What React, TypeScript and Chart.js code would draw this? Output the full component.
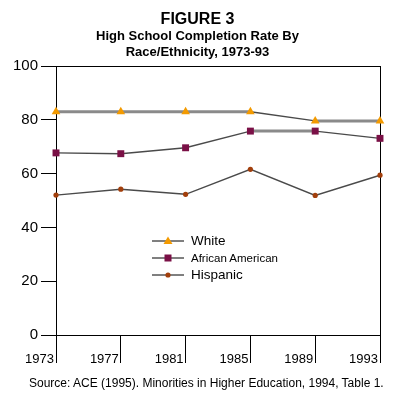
import React, { useEffect, useRef } from "react";
import { Chart, registerables } from "chart.js";

Chart.register(...registerables);

const years = ["1973", "1977", "1981", "1985", "1989", "1993"];
const white = [83.0, 83.0, 83.0, 83.0, 79.6, 79.6];
const africanAmerican = [67.7, 67.4, 69.6, 75.8, 75.8, 73.1];
const hispanic = [52.0, 54.2, 52.3, 61.6, 51.9, 59.4];
const yMin = 0;
const yMax = 100;
const yStep = 20;

const titleText = "FIGURE 3";
const subtitleLines = ["High School Completion Rate By", "Race/Ethnicity, 1973-93"];
const sourceText = "Source: ACE (1995). Minorities in Higher Education, 1994, Table 1.";

const ORANGE = "#F39A00";
const MAROON = "#7A1046";
const BROWN = "#A23F0C";
const FONT = "'Liberation Sans', Arial, sans-serif";

const flat = (ctx: any) => ctx.p0.parsed.y === ctx.p1.parsed.y;
const segStyle = {
  borderColor: (ctx: any) => (flat(ctx) ? "#8a8a8a" : "#4a4a4a"),
  borderWidth: (ctx: any) => (flat(ctx) ? 3 : 1.4),
};

function LegendRow({ cy, shape, label, size }: { cy: number; shape: string; label: string; size: number }) {
  let marker: any = null;
  if (shape === "triangle") marker = <polygon points="16,1.5 20.5,9 11.5,9" fill={ORANGE} />;
  else if (shape === "rect") marker = <rect x={12.5} y={2.5} width={7} height={7} fill={MAROON} />;
  else marker = <circle cx={16} cy={6} r={2.6} fill={BROWN} />;
  return (
    <>
      <svg
        width={32}
        height={12}
        style={{ position: "absolute", left: 152, top: cy - 6 }}
      >
        <line x1={0} y1={6} x2={32} y2={6} stroke="#000" strokeWidth={1} />
        {marker}
      </svg>
      <div
        style={{
          position: "absolute",
          left: 191,
          top: cy - 8,
          height: 16,
          lineHeight: "16px",
          fontSize: size,
          fontFamily: FONT,
          color: "#000",
          whiteSpace: "nowrap",
        }}
      >
        {label}
      </div>
    </>
  );
}

export default function App() {
  const ref = useRef<HTMLCanvasElement>(null);

  useEffect(() => {
    Chart.defaults.font.family = FONT;
    const chart = new Chart(ref.current!, {
      type: "line",
      data: {
        labels: years,
        datasets: [
          {
            label: "White",
            data: white,
            segment: segStyle,
            borderColor: "#8a8a8a",
            pointStyle: "triangle",
            pointRadius: 5,
            pointBackgroundColor: ORANGE,
            pointBorderWidth: 0,
            clip: false,
            xAxisID: "x",
            yAxisID: "y",
          },
          {
            label: "African American",
            data: africanAmerican,
            segment: segStyle,
            borderColor: "#4a4a4a",
            pointStyle: "rect",
            pointRadius: 4.9,
            pointBackgroundColor: MAROON,
            pointBorderWidth: 0,
            clip: false,
            xAxisID: "x",
            yAxisID: "y",
          },
          {
            label: "Hispanic",
            data: hispanic,
            segment: segStyle,
            borderColor: "#4a4a4a",
            pointStyle: "circle",
            pointRadius: 2.6,
            pointBackgroundColor: BROWN,
            pointBorderWidth: 0,
            clip: false,
            xAxisID: "x",
            yAxisID: "y",
          },
        ],
      },
      options: {
        animation: false,
        responsive: false,
        events: [],
        layout: { padding: { left: 0, right: 5, top: 0, bottom: 37 } },
        plugins: {
          legend: { display: false },
          tooltip: { enabled: false },
          title: {
            display: true,
            text: titleText,
            color: "#000",
            font: { family: FONT, size: 16, weight: "bold", lineHeight: 1 },
            padding: { top: 12, bottom: 0 },
          },
          subtitle: {
            display: true,
            text: subtitleLines,
            color: "#000",
            font: { family: FONT, size: 13, weight: "bold", lineHeight: 16 / 13 },
            padding: { top: 0, bottom: 6 },
          },
        },
        scales: {
          x: {
            type: "category",
            position: "bottom",
            offset: false,
            grid: {
              drawOnChartArea: false,
              drawTicks: true,
              tickLength: 28,
              color: "#000",
              lineWidth: 1,
            },
            border: { display: true, color: "#000", width: 1 },
            ticks: {
              color: "#000",
              font: { family: FONT, size: 13 },
              align: "end",
              padding: -11,
              labelOffset: -2,
              maxRotation: 0,
              autoSkip: false,
            },
            afterFit: (s: any) => {
              s.height = 28;
            },
          },
          xTop: {
            type: "category",
            labels: years,
            position: "top",
            offset: false,
            grid: { display: false, drawTicks: false },
            ticks: { display: false },
            border: { display: true, color: "#000", width: 1 },
          },
          y: {
            type: "linear",
            position: "left",
            min: yMin,
            max: yMax,
            grid: {
              drawOnChartArea: false,
              drawTicks: true,
              tickLength: 15,
              color: "#000",
              lineWidth: 1,
            },
            border: { display: true, color: "#000", width: 1 },
            ticks: {
              stepSize: yStep,
              color: "#000",
              font: { family: FONT, size: 15 },
              padding: 3,
            },
            afterFit: (s: any) => {
              s.width = 56;
            },
          },
          yRight: {
            type: "linear",
            position: "right",
            min: yMin,
            max: yMax,
            grid: { display: false, drawTicks: false },
            ticks: { display: false },
            border: { display: true, color: "#000", width: 1 },
            afterFit: (s: any) => {
              s.width = 15;
            },
          },
        },
      } as any,
    });
    return () => chart.destroy();
  }, []);

  return (
    <div
      style={{
        position: "fixed",
        left: 0,
        top: 0,
        width: 400,
        height: 400,
        background: "#fff",
      }}
    >
      <canvas ref={ref} width={400} height={400} style={{ display: "block" }} />
      <LegendRow cy={241} shape="triangle" label="White" size={13.5} />
      <LegendRow cy={257.5} shape="rect" label="African American" size={11.5} />
      <LegendRow cy={274.5} shape="circle" label="Hispanic" size={13.5} />
      <div
        style={{
          position: "absolute",
          left: 29,
          top: 376,
          height: 14,
          lineHeight: "14px",
          fontSize: 12,
          fontFamily: FONT,
          color: "#000",
          whiteSpace: "nowrap",
        }}
      >
        {sourceText}
      </div>
    </div>
  );
}
